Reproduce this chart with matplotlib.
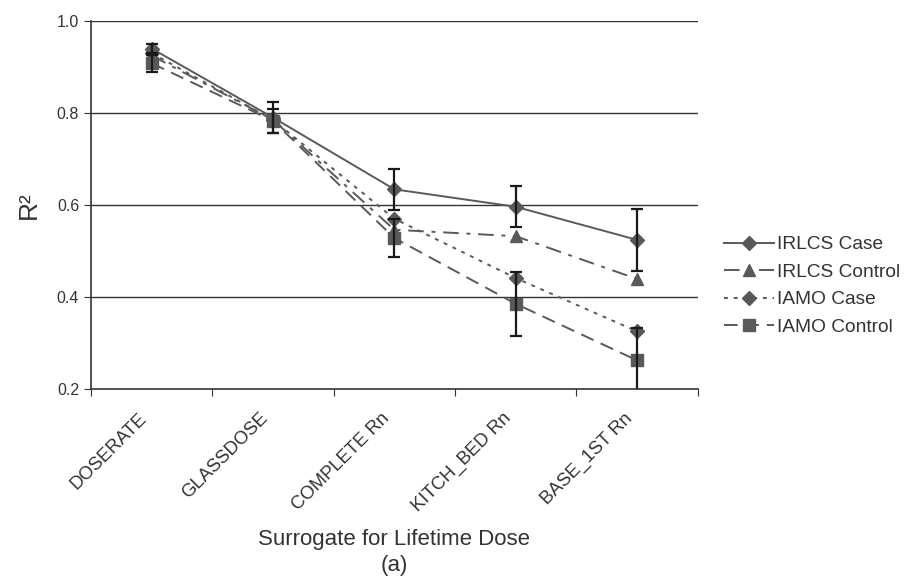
import matplotlib
matplotlib.use("Agg")
import matplotlib.pyplot as plt
import numpy as np

plt.rcParams["font.family"] = ["Liberation Sans", "DejaVu Sans"]

categories = ["DOSERATE", "GLASSDOSE", "COMPLETE Rn", "KITCH_BED Rn", "BASE_1ST Rn"]

irlcs_case = [0.940, 0.790, 0.634, 0.596, 0.524]
irlcs_case_err = [0.010, 0.033, 0.045, 0.045, 0.067]
irlcs_control = [0.925, 0.785, 0.546, 0.532, 0.439]
iamo_case = [0.930, 0.785, 0.570, 0.441, 0.325]
iamo_control = [0.908, 0.783, 0.528, 0.385, 0.262]
iamo_control_err = [0.018, 0.026, 0.041, 0.070, 0.071]

LINE = "#595959"
ERR = "#1a1a1a"
TXT = "#333333"

fig = plt.figure(figsize=(9.22, 5.83), dpi=100)
ax = fig.add_axes([0.0987, 0.333, 0.658, 0.631])

x = np.arange(len(categories)) + 0.5

common = dict(color=LINE, linewidth=1.4, markerfacecolor=LINE, markeredgecolor=LINE)
ax.plot(x, irlcs_case, linestyle="-", marker="D", markersize=7, label="IRLCS Case", zorder=3, **common)
ax.plot(x, irlcs_control, linestyle=(0, (8, 4, 2, 4)), marker="^", markersize=9,
        label="IRLCS Control", zorder=3, **common)
ax.plot(x, iamo_case, linestyle=(0, (2, 3)), marker="D", markersize=7, label="IAMO Case", zorder=3, **common)
ax.plot(x, iamo_control, linestyle=(0, (7, 4)), marker="s", markersize=9,
        label="IAMO Control", zorder=3, **common)

ax.errorbar(x, irlcs_case, yerr=irlcs_case_err, fmt="none", ecolor=ERR, elinewidth=1.6,
            capsize=4, capthick=1.6, zorder=4)
ax.errorbar(x, iamo_control, yerr=iamo_control_err, fmt="none", ecolor=ERR, elinewidth=1.6,
            capsize=4, capthick=1.6, zorder=4)

ax.set_xlim(0, len(categories))
ax.set_ylim(0.2, 1.0)
yt = [0.2, 0.4, 0.6, 0.8, 1.0]
ax.set_yticks(yt)
ax.set_yticklabels([f"{v:.1f}" for v in yt], fontsize=11.5, color=TXT)
for yv in yt[1:]:
    ax.axhline(yv, color=TXT, linewidth=1.0, zorder=1)

# category boundaries carry the tick marks; names are placed under the centres
ax.set_xticks(np.arange(len(categories) + 1))
ax.set_xticklabels([])
for xi, name in zip(x, categories):
    ax.annotate(name, xy=(xi, 0), xycoords=("data", "axes fraction"),
                xytext=(-5.5, -19.4), textcoords="offset points",
                rotation=45, rotation_mode="anchor", ha="right", va="center",
                fontsize=13.3, color=TXT, annotation_clip=False)
ax.tick_params(axis="x", length=5, color=TXT)
ax.tick_params(axis="y", length=5, color=TXT)

for side in ["top", "right"]:
    ax.spines[side].set_visible(False)
for side in ["left", "bottom"]:
    ax.spines[side].set_color(TXT)
    ax.spines[side].set_linewidth(1.2)

ax.set_ylabel("R²", fontsize=19, color=TXT, labelpad=11.5)
ax.set_xlabel("Surrogate for Lifetime Dose\n(a)", fontsize=16, color=TXT, linespacing=1.35)
ax.xaxis.set_label_coords(0.5, -0.38)

ax.legend(loc="center left", bbox_to_anchor=(1.015, 0.28), frameon=False, fontsize=13.8,
          handlelength=2.6, handletextpad=0.15, labelspacing=0.52, labelcolor=TXT)

fig.savefig("out.png", dpi=100)
